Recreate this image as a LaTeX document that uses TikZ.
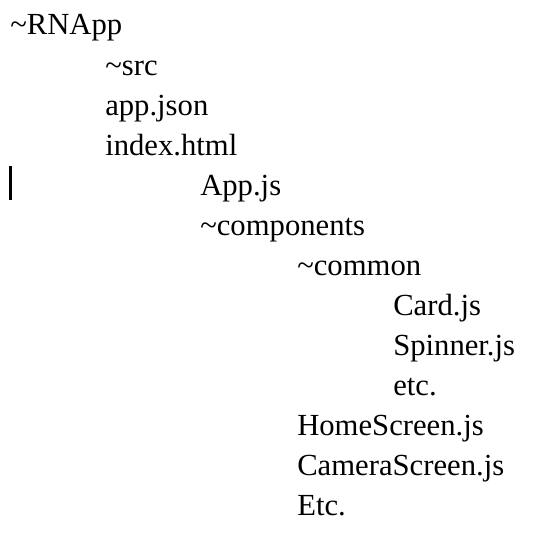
\documentclass[tikz,border=0pt]{standalone}
\usepackage{fontspec}
\setmainfont{Liberation Serif}
\usetikzlibrary{positioning}

\begin{document}
\begin{tikzpicture}[
x=0.75pt, y=-0.75pt,
entry/.style={anchor=base west, inner sep=0pt, font=\fontsize{23}{27}\selectfont}
]
\useasboundingbox (0,0) rectangle (534,542);
% level 0
\node[entry] (root) at (10,35) {\textasciitilde RNApp};
% level 1
\node[entry] (src) at (105,75) {\textasciitilde src};
\node[entry] (json) at (105,115) {app.json};
\node[entry] (html) at (105,155) {index.html};
% level 2
\node[entry] (app) at (200,195) {App.js};
\node[entry] (comp) at (200,235) {\textasciitilde components};
% level 3
\node[entry] (common) at (297,275) {\textasciitilde common};
% level 4
\node[entry] (card) at (393,315) {Card.js};
\node[entry] (spin) at (393,355) {Spinner.js};
\node[entry] (etc1) at (393,395) {etc.};
% level 3 again
\node[entry] (home) at (297,435) {HomeScreen.js};
\node[entry] (camera) at (297,475) {CameraScreen.js};
\node[entry] (etc2) at (297,515) {Etc.};
% text cursor
\fill (8.5,166) rectangle (12,200);
\end{tikzpicture}
\end{document}
